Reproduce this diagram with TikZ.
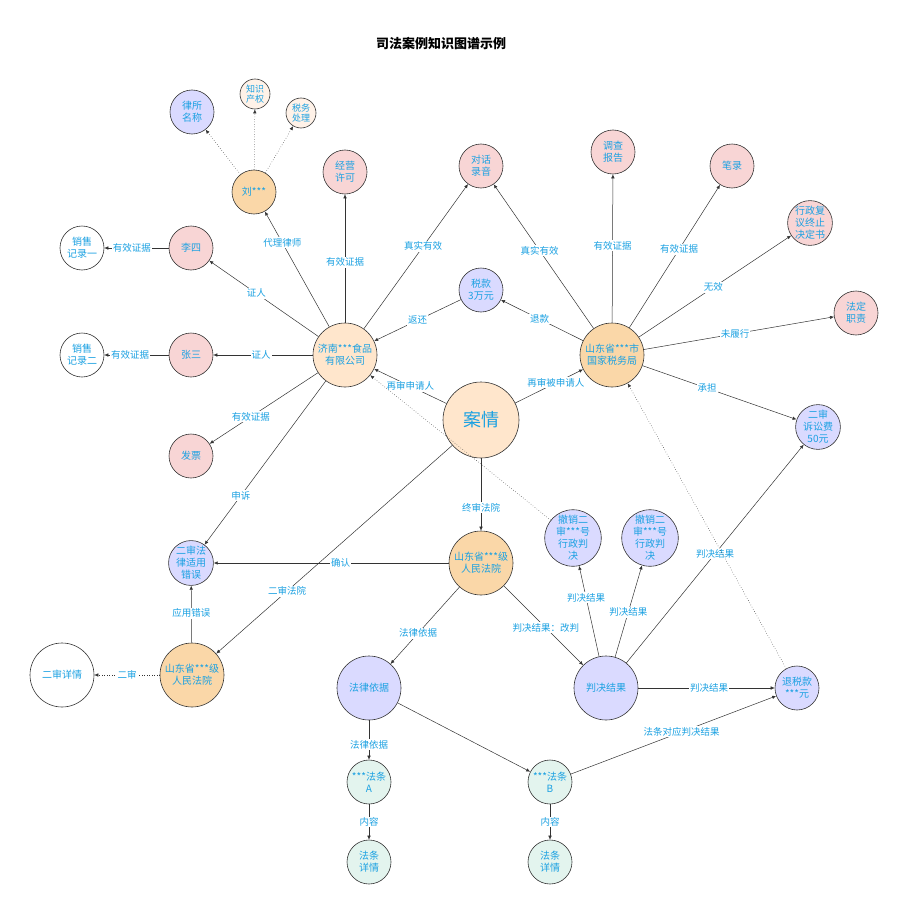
\documentclass[tikz,border=0pt]{standalone}
\usepackage{fontspec}
\setmainfont{Noto Sans CJK SC}
\usetikzlibrary{arrows.meta}

\definecolor{txtblue}{HTML}{1BA1E2}
\definecolor{edgegray}{HTML}{333333}
\definecolor{orangedeep}{HTML}{FAD7A8}
\definecolor{orangelight}{HTML}{FFE6CC}
\definecolor{pinkfill}{HTML}{F8D5D5}
\definecolor{bluefill}{HTML}{DADAFF}
\definecolor{greenfill}{HTML}{E3F4EE}
\definecolor{peachfill}{HTML}{FFF2E8}

\begin{document}
\begin{tikzpicture}[x=1pt, y=-1pt, font=\fontsize{10}{12}\selectfont]

% Styles
        \tikzstyle{entity}=[circle, draw=edgegray, line width=0.6pt, inner sep=0pt, align=center, text=txtblue, minimum size=44pt, fill=white]
        \tikzstyle{bigentity}=[entity, minimum size=64pt]
        \tikzstyle{tinyentity}=[entity, minimum size=30pt, font=\fontsize{9}{10.5}\selectfont]
        \tikzstyle{arrow}=[-{Latex[length=4pt, width=3.5pt]}, draw=edgegray, line width=0.5pt]
        \tikzstyle{hint}=[arrow, dotted]
        \tikzstyle{lbl}=[fill=white, text=txtblue, inner sep=1pt, font=\fontsize{9.5}{11}\selectfont]

        \useasboundingbox (0,0) rectangle (907,915);

% Title
        \node[font=\fontsize{13}{15}\selectfont\bfseries] (title) at (441,44) {司法案例知识图谱示例};

% Nodes
% Core
        \node[entity, minimum size=76pt, fill=orangelight, font=\fontsize{18}{20}\selectfont] (case) at (481,420) {案情};
        \node[bigentity, fill=orangelight] (company) at (345,355) {济南***食品\\有限公司};
        \node[bigentity, fill=orangedeep] (bureau) at (612,355) {山东省***市\\国家税务局};

% Lawyer
        \node[entity, fill=orangedeep] (liu) at (254,192) {刘***};
        \node[entity, fill=bluefill] (lawfirm) at (192,112) {律所\\名称};
        \node[tinyentity, fill=peachfill] (ip) at (255,94) {知识\\产权};
        \node[tinyentity, fill=peachfill] (taxproc) at (301,113) {税务\\处理};

% Evidence
        \node[entity, fill=pinkfill] (license) at (345,172) {经营\\许可};
        \node[entity, fill=pinkfill] (recording) at (481,166) {对话\\录音};
        \node[entity, fill=pinkfill] (survey) at (613,152) {调查\\报告};
        \node[entity, fill=pinkfill] (notes) at (732,166) {笔录};
        \node[entity, fill=pinkfill] (review) at (810,223) {行政复\\议终止\\决定书};
        \node[entity, fill=pinkfill] (duty) at (856,313) {法定\\职责};
        \node[entity, fill=pinkfill] (lisi) at (191,248) {李四};
        \node[entity] (sales1) at (82,248) {销售\\记录一};
        \node[entity, fill=pinkfill] (zhangsan) at (191,355) {张三};
        \node[entity] (sales2) at (82,355) {销售\\记录二};
        \node[entity, fill=pinkfill] (invoice) at (191,456) {发票};
        \node[entity, fill=bluefill] (taxsum) at (481,290) {税款\\3万元};
        \node[entity, fill=bluefill] (fee) at (818,427) {二审\\诉讼费\\50元};

% Courts
        \node[bigentity, fill=orangedeep] (highcourt) at (481,563) {山东省***级\\人民法院};
        \node[bigentity, fill=orangedeep] (midcourt) at (192,675) {山东省***级\\人民法院};
        \node[entity, fill=bluefill] (error) at (191,563) {二审法\\律适用\\错误};
        \node[bigentity] (detail2) at (62,675) {二审详情};

% Verdict
        \node[entity, fill=bluefill] (revoke1) at (573,538) {撤销二\\审***号\\行政判\\决};
        \node[entity, fill=bluefill] (revoke2) at (650,538) {撤销二\\审***号\\行政判\\决};
        \node[bigentity, fill=bluefill] (basis) at (369,688) {法律依据};
        \node[bigentity, fill=bluefill] (verdict) at (606,688) {判决结果};
        \node[entity, fill=bluefill] (rebate) at (797,688) {退税款\\***元};

% Articles
        \node[entity, fill=greenfill] (lawA) at (369,782) {***法条\\A};
        \node[entity, fill=greenfill] (lawB) at (550,782) {***法条\\B};
        \node[entity, fill=greenfill] (textA) at (369,862) {法条\\详情};
        \node[entity, fill=greenfill] (textB) at (550,862) {法条\\详情};

% Connections
% Lawyer
        \draw[hint] (liu) -- (lawfirm);
        \draw[hint] (liu) -- (ip);
        \draw[hint] (liu) -- (taxproc);
        \draw[arrow] (company) -- node[lbl, pos=0.73] {代理律师} (liu);

% Company
        \draw[arrow] (company) -- node[lbl, pos=0.47] {有效证据} (license);
        \draw[arrow] (company) -- node[lbl, pos=0.57] {真实有效} (recording);
        \draw[arrow] (company) -- node[lbl, pos=0.57] {证人} (lisi);
        \draw[arrow] (lisi) -- node[lbl, pos=0.57] {有效证据} (sales1);
        \draw[arrow] (company) -- node[lbl, pos=0.52] {证人} (zhangsan);
        \draw[arrow] (zhangsan) -- node[lbl, pos=0.6] {有效证据} (sales2);
        \draw[arrow] (company) -- node[lbl, pos=0.62] {有效证据} (invoice);
        \draw[arrow] (taxsum) -- node[lbl, pos=0.5] {返还} (company);
        \draw[arrow] (company) -- node[lbl, pos=0.7] {申诉} (error);

% Bureau
        \draw[arrow] (bureau) -- node[lbl, pos=0.53] {退款} (taxsum);
        \draw[arrow] (bureau) -- node[lbl, pos=0.54] {真实有效} (recording);
        \draw[arrow] (bureau) -- node[lbl, pos=0.52] {有效证据} (survey);
        \draw[arrow] (bureau) -- node[lbl, pos=0.55] {有效证据} (notes);
        \draw[arrow] (bureau) -- node[lbl, pos=0.49] {无效} (review);
        \draw[arrow] (bureau) -- node[lbl, pos=0.48] {未履行} (duty);
        \draw[arrow] (bureau) -- node[lbl, pos=0.42] {承担} (fee);

% Case
        \draw[arrow] (case) -- node[lbl, pos=0.5] {再审申请人} (company);
        \draw[arrow] (case) -- node[lbl, pos=0.6] {再审被申请人} (bureau);
        \draw[arrow] (case) -- node[lbl, pos=0.68] {终审法院} (highcourt);
        \draw[arrow] (case) -- node[lbl, pos=0.7] {二审法院} (midcourt);

% Courts
        \draw[arrow] (highcourt) -- node[lbl, pos=0.46] {确认} (error);
        \draw[arrow] (midcourt) -- node[lbl, pos=0.52] {应用错误} (error);
        \draw[hint] (midcourt) -- node[lbl, pos=0.5] {二审} (detail2);
        \draw[arrow] (highcourt) -- node[lbl, pos=0.6] {法律依据} (basis);
        \draw[arrow] (highcourt) -- node[lbl, pos=0.53] {判决结果：改判} (verdict);

% Verdict
        \draw[arrow] (verdict) -- node[lbl, pos=0.65] {判决结果} (revoke1);
        \draw[arrow] (verdict) -- node[lbl, pos=0.49] {判决结果} (revoke2);
        \draw[arrow] (verdict) -- node[lbl, pos=0.5] {判决结果} (fee);
        \draw[arrow] (verdict) -- node[lbl, pos=0.52] {判决结果} (rebate);
        \draw[hint] (revoke1) -- (company);
        \draw[hint] (rebate) -- (bureau);

% Articles
        \draw[arrow] (basis) -- node[lbl, pos=0.62] {法律依据} (lawA);
        \draw[arrow] (basis) -- (lawB);
        \draw[arrow] (lawB) -- node[lbl, pos=0.54] {法条对应判决结果} (rebate);
        \draw[arrow] (lawA) -- node[lbl, pos=0.5] {内容} (textA);
        \draw[arrow] (lawB) -- node[lbl, pos=0.5] {内容} (textB);

    \end{tikzpicture}
\end{document}
